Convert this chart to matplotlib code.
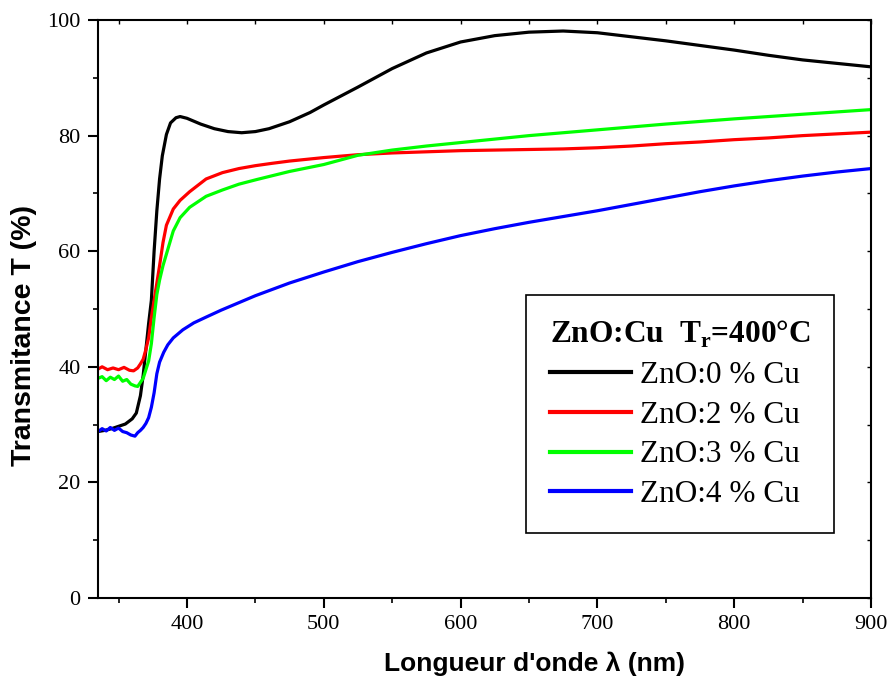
import matplotlib
matplotlib.use("Agg")
import matplotlib.pyplot as plt
from matplotlib.ticker import MultipleLocator

plt.rcParams['mathtext.fontset'] = 'custom'
plt.rcParams['mathtext.rm'] = 'Liberation Serif'
plt.rcParams['mathtext.bf'] = 'Liberation Serif:bold'

# Transmittance spectra of ZnO:Cu films annealed at 400 °C
wl_0 = [335, 340, 345, 350, 355, 360, 363, 366, 368, 370, 372, 374, 376, 378, 380, 382,
        385, 388, 392, 395, 400, 410, 420, 430, 440, 450, 460, 475, 490, 500, 525, 550,
        575, 600, 625, 650, 675, 700, 725, 750, 775, 800, 825, 850, 875, 900]
t_0 = [28.8, 29.0, 29.3, 29.7, 30.1, 31.0, 32.0, 35.0, 38.5, 43.0, 47.5, 51.5, 60.0, 67.0,
       72.5, 76.5, 80.2, 82.2, 83.1, 83.3, 83.0, 82.0, 81.2, 80.7, 80.5, 80.7, 81.2, 82.4,
       84.0, 85.3, 88.4, 91.6, 94.3, 96.2, 97.3, 97.9, 98.1, 97.8, 97.1, 96.4, 95.6, 94.8,
       93.9, 93.1, 92.5, 91.9]

wl_2 = [335, 338, 342, 346, 350, 354, 358, 361, 364, 366, 368, 370, 372, 374, 376, 378,
        380, 382.5, 385, 390, 395, 402, 414, 426, 438, 450, 462, 475, 500, 525, 550, 575,
        600, 625, 650, 675, 700, 725, 750, 775, 800, 825, 850, 875, 900]
t_2 = [39.6, 40.0, 39.5, 39.8, 39.5, 39.9, 39.4, 39.3, 39.8, 40.5, 41.3, 43.0, 45.0, 48.5,
       51.5, 54.5, 57.5, 61.5, 64.5, 67.3, 68.8, 70.3, 72.5, 73.6, 74.3, 74.8, 75.2, 75.6,
       76.2, 76.7, 77.0, 77.2, 77.4, 77.5, 77.6, 77.7, 77.9, 78.2, 78.6, 78.9, 79.3, 79.6,
       80.0, 80.3, 80.6]

wl_3 = [335, 338, 341, 344, 347, 350, 353, 356, 359, 362, 364, 366, 368, 370, 372, 374,
        376, 378, 380, 382.5, 385, 390, 395, 402, 414, 426, 438, 451, 475, 500, 525, 550,
        575, 600, 625, 650, 700, 750, 800, 850, 900]
t_3 = [38.0, 38.3, 37.6, 38.2, 37.8, 38.4, 37.5, 37.8, 37.0, 36.7, 36.6, 37.3, 38.0, 39.5,
       41.0, 44.0, 48.5, 52.5, 55.0, 57.5, 59.5, 63.5, 65.8, 67.6, 69.5, 70.6, 71.6, 72.4,
       73.8, 75.0, 76.6, 77.5, 78.2, 78.8, 79.4, 80.0, 81.0, 82.0, 82.9, 83.7, 84.5]

wl_4 = [335, 338, 341, 344, 347, 350, 353, 356, 359, 362, 364, 366, 368, 370, 372, 374,
        376, 378, 380, 383, 386, 390, 397, 405, 414, 425, 438, 450, 475, 500, 525, 550,
        575, 600, 625, 650, 675, 700, 725, 750, 775, 800, 825, 850, 875, 900]
t_4 = [28.8, 29.3, 28.9, 29.5, 29.0, 29.4, 28.8, 28.6, 28.2, 28.0, 28.6, 29.0, 29.5, 30.2,
       31.2, 33.0, 35.5, 38.8, 40.8, 42.5, 43.8, 45.0, 46.4, 47.6, 48.6, 49.8, 51.1, 52.3,
       54.5, 56.4, 58.2, 59.8, 61.3, 62.7, 63.9, 65.0, 66.0, 67.0, 68.1, 69.2, 70.3, 71.3,
       72.2, 73.0, 73.7, 74.3]

labels = ["ZnO:0 % Cu", "ZnO:2 % Cu", "ZnO:3 % Cu", "ZnO:4 % Cu"]
colors = ["#000000", "#ff0000", "#00ff00", "#0000ff"]
x_ticks = [400, 500, 600, 700, 800, 900]
y_ticks = [0, 20, 40, 60, 80, 100]

fig = plt.figure(figsize=(8.91, 6.86), dpi=100)
ax = fig.add_axes([0.110, 0.1283, 0.8676, 0.8425])

for wl, t, lab, c in zip([wl_0, wl_2, wl_3, wl_4], [t_0, t_2, t_3, t_4], labels, colors):
    ax.plot(wl, t, color=c, lw=2.3, label=lab, solid_joinstyle='round')

ax.set_xlim(335, 900)
ax.set_ylim(0, 100)
ax.set_xticks(x_ticks)
ax.set_yticks(y_ticks)
ax.xaxis.set_minor_locator(MultipleLocator(50))
ax.yaxis.set_minor_locator(MultipleLocator(10))

for s in ax.spines.values():
    s.set_linewidth(1.5)

ax.tick_params(which='major', direction='out', length=7.5, width=1.5,
               top=False, right=False, pad=5)
ax.tick_params(which='minor', direction='out', length=3.5, width=1.2,
               top=False, right=False)

# short inward ticks on the top and right frame edges
top = ax.secondary_xaxis('top')
top.set_xticks(list(range(350, 901, 50)))
top.tick_params(direction='in', length=3, width=1.0, labeltop=False)
top.spines['top'].set_visible(False)
right = ax.secondary_yaxis('right')
right.set_yticks(list(range(0, 101, 10)))
right.tick_params(direction='in', length=3, width=1.0, labelright=False)
right.spines['right'].set_visible(False)

for lbl in ax.get_xticklabels() + ax.get_yticklabels():
    lbl.set_fontfamily('Liberation Serif')
    lbl.set_fontsize(16)

ax.set_xlabel("Longueur d'onde λ (nm)", fontfamily='Liberation Sans',
              fontweight='bold', fontsize=19)
ax.set_ylabel("Transmitance T (%)", fontfamily='Liberation Sans',
              fontweight='bold', fontsize=20.5)
ax.xaxis.set_label_coords(0.565, -0.093)
ax.yaxis.set_label_coords(-0.079, 0.455)

leg = ax.legend(loc='upper left', bbox_to_anchor=(0.554, 0.524),
                title=r"ZnO:Cu  T$_\mathbf{r}$=400°C",
                prop={'family': 'Liberation Serif', 'size': 22.5},
                handlelength=2.6, handletextpad=0.3, labelspacing=0.35,
                borderpad=0.75, borderaxespad=0, fancybox=False,
                edgecolor='black', framealpha=1)
leg._legend_box.align = 'left'
leg.get_title().set_fontfamily('Liberation Serif')
leg.get_title().set_fontweight('bold')
leg.get_title().set_fontsize(22.6)
leg.get_frame().set_linewidth(1.2)
for h in leg.get_lines():
    h.set_linewidth(3)

fig.savefig("out.png", dpi=100)
